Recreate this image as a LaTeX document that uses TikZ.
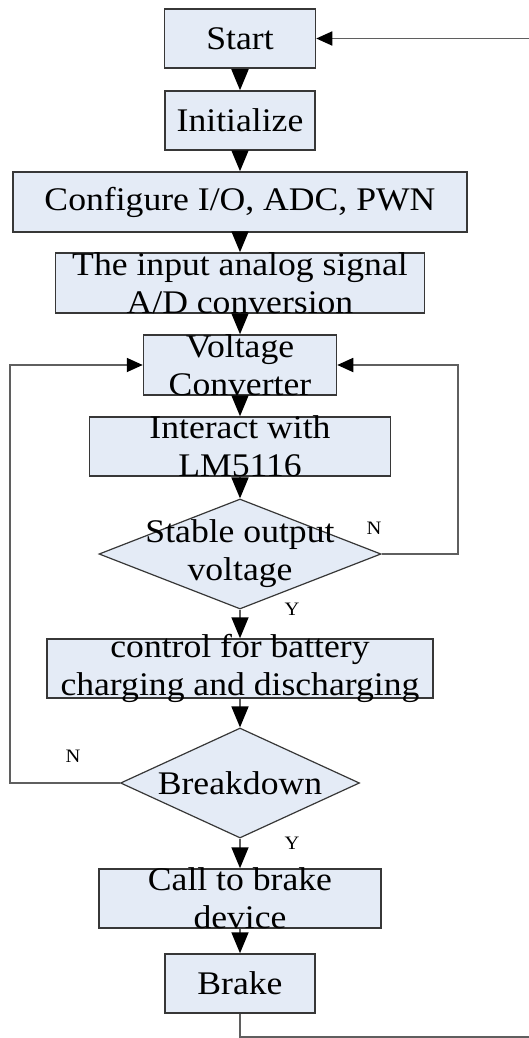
\documentclass[tikz,border=0pt]{standalone}
\usepackage{fontspec}
\setmainfont[FakeStretch=1.08]{Liberation Serif}
\usepackage{xcolor}
\definecolor{boxfill}{RGB}{228,235,246}
\definecolor{edge}{RGB}{55,55,55}
\definecolor{wire}{RGB}{95,95,95}
\usepackage{tikz}
\usetikzlibrary{shapes.geometric,arrows.meta}

\begin{document}
\begin{tikzpicture}[
  x=1pt, y=-1pt,
  txt/.style={font=\fontsize{33}{38}\selectfont, align=center, inner sep=0pt},
  box/.style={draw=edge, fill=boxfill, line width=1.5pt, inner sep=0pt, minimum height=59pt, label={[txt]center:#1}},
  test/.style={diamond, draw=edge, fill=boxfill, line width=1.2pt, inner sep=0pt, minimum height=110pt, label={[txt]center:#1}},
  lbl/.style={font=\fontsize{19}{21}\selectfont, inner sep=0pt},
  arrow/.style={-{Triangle[length=21pt, width=17pt, black]}, line width=1.8pt, color=wire},
  loop/.style={-{Triangle[length=16pt, width=14pt, black]}, line width=1.8pt, color=wire}
]
\fill[white] (0,0) rectangle (528,1038);
\useasboundingbox (0,0) rectangle (528,1038);

\node[box={Start}, minimum width=151pt] (start) at (240,38.5) {};
\node[box={Initialize}, minimum width=150pt] (init) at (240,120.5) {};
\node[box={Configure I/O, ADC, PWN}, minimum width=454pt, minimum height=60pt] (cfg) at (240,202) {};
\node[box={The input analog signal\\A/D conversion}, minimum width=369pt, minimum height=60pt] (adc) at (240,283) {};
\node[box={Voltage\\Converter}, minimum width=193pt, minimum height=60pt] (volt) at (240,365) {};
\node[box={Interact with\\LM5116}, minimum width=301pt] (lm) at (240,446.5) {};
\node[test={Stable output\\voltage}, minimum width=282pt] (stable) at (240,554) {};
\node[box={control for battery\\charging and discharging}, minimum width=386pt] (chg) at (240,668.5) {};
\node[test={Breakdown}, minimum width=239pt] (brk) at (240,783) {};
\node[box={Call to brake\\device}, minimum width=282pt] (call) at (240,898.5) {};
\node[box={Brake}, minimum width=150pt] (brake) at (240,983.5) {};

% main flow
\foreach \a/\b in {start/init, init/cfg, cfg/adc, adc/volt, volt/lm, lm/stable, stable/chg, chg/brk, brk/call, call/brake}
  \draw[arrow] (\a) -- (\b);

% feedback loops
\draw[loop] (stable.east) -- ++(76,0) |- (volt.east);
\coordinate (lside) at (10,783);
\draw[loop] (brk.west) -- (lside) |- (volt.west);
\coordinate (rside) at (530,1037);
\draw[loop] (brake.south) |- (rside) |- (start.east);

\node[lbl] (stN) at (374,528) {N};
\node[lbl] (stY) at (292,609) {Y};
\node[lbl] (bkN) at (73,756) {N};
\node[lbl] (bkY) at (292,843) {Y};
\end{tikzpicture}
\end{document}
